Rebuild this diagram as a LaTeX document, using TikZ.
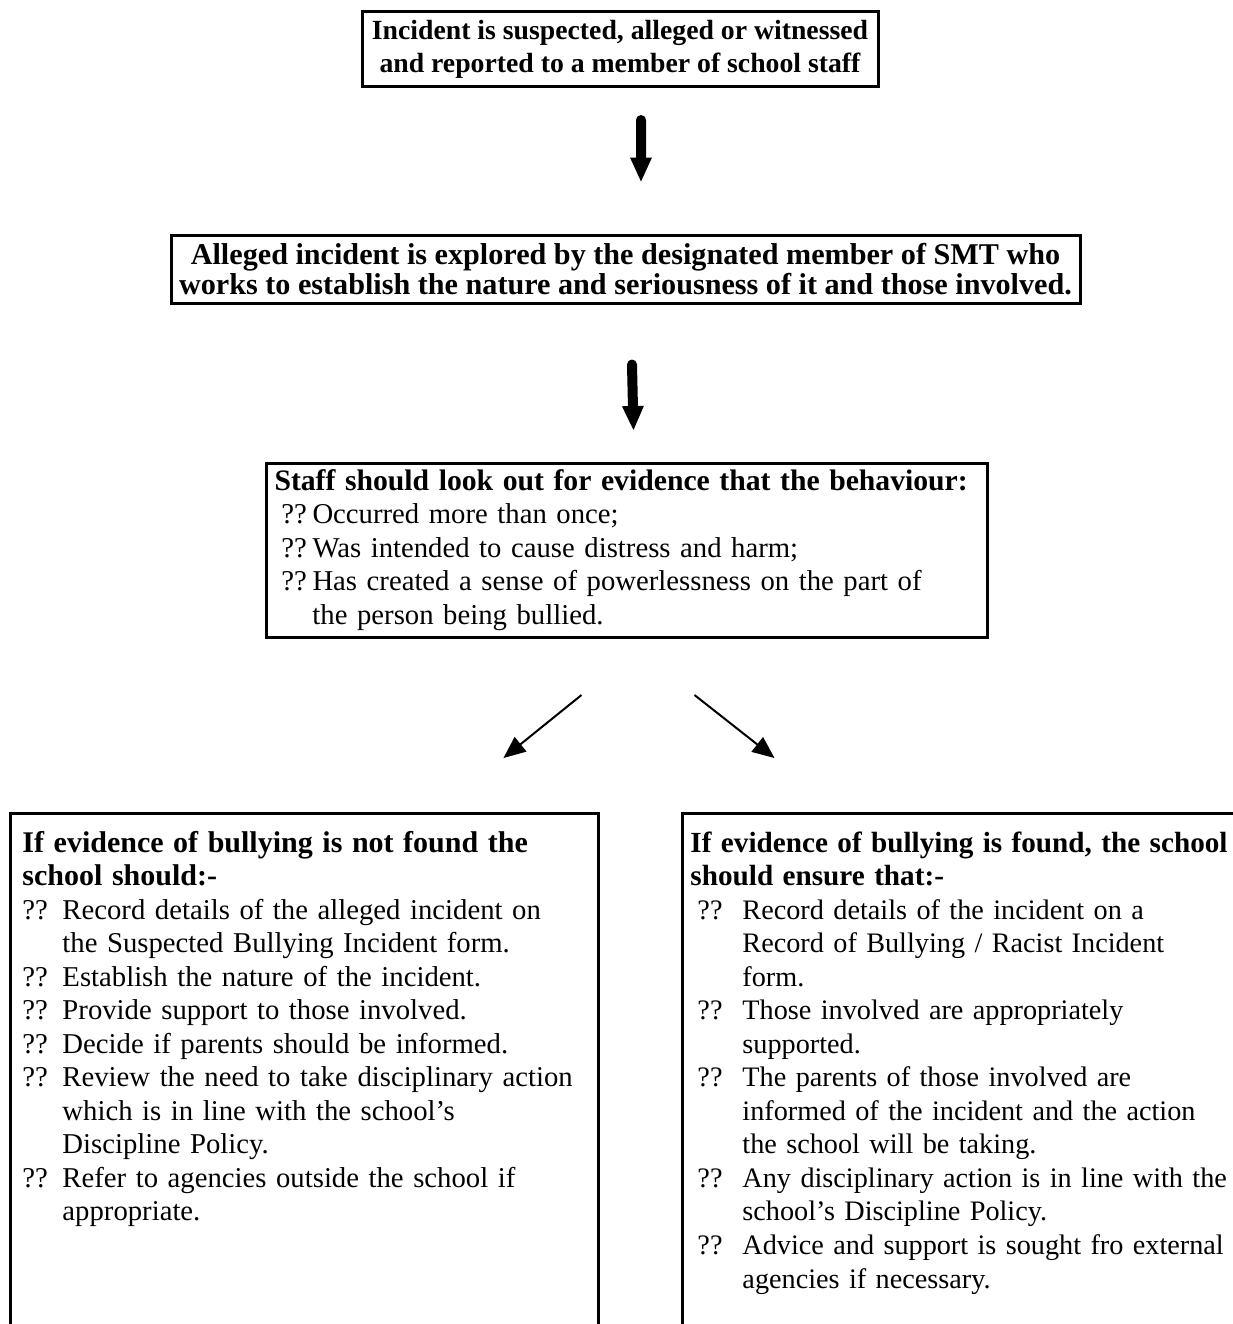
\documentclass[tikz,border=0pt]{standalone}
\usepackage{fontspec}
\setmainfont{Liberation Serif}
\usetikzlibrary{arrows.meta,calc}
\newdimen\pxu \pxu=0.411pt
\newdimen\boff \newdimen\bind
\newcommand\bitem[1]{\par\hangindent=\bind\hangafter=1\noindent\hspace*{\boff}\makebox[\dimexpr\bind-\boff\relax][l]{??}#1\par}
\tikzset{
  box/.style={draw, line width=3\pxu, rectangle, inner sep=0pt},
  blockarrow/.style={line width=10\pxu, line cap=round,
    -{Triangle[length=9.86pt 0 0, width=9.04pt 0 0, line width=0pt 0 0]}},
  thinarrow/.style={line width=2\pxu,
    -{Triangle[length=9.04pt 0 0, width=7.8pt 0 0, line width=0pt 0 0]}},
  bodytext/.style={inner sep=0pt, anchor=north west, align=left, text width=#1,
    font=\fontsize{11.8}{13.77}\selectfont},
  openbox/.style={draw=none, rectangle, inner sep=0pt, anchor=north west},
}
\begin{document}
\begin{tikzpicture}[x=0.411pt, y=-0.411pt]
\useasboundingbox (0,0) rectangle (1233,1324);

\node[box, minimum width=516\pxu, minimum height=75\pxu, align=center,
  font=\fontsize{11.4}{13.56}\selectfont\bfseries] (b1) at (620,49)
  {\strut Incident is suspected, alleged or witnessed\\ and reported to a member of school staff\strut};

\node[box, minimum width=909\pxu, minimum height=68\pxu, align=center,
  font=\fontsize{12.4}{12.33}\selectfont\bfseries] (b2) at (625.5,269)
  {Alleged incident is explored by the designated member of SMT who\\ works to establish the nature and seriousness of it and those involved.};

\node[box, anchor=north west, minimum width=721\pxu, minimum height=174\pxu,
  text width=705\pxu, inner xsep=8\pxu, inner ysep=0pt, align=left,
  font=\fontsize{11.8}{13.77}\selectfont] (b3) at (265,462)
  {\boff=7\pxu \bind=38\pxu
   {\fontsize{12.2}{13.77}\selectfont\bfseries\strut Staff should look out for evidence that the behaviour:\par}
   \bitem{Occurred more than once;}
   \bitem{Was intended to cause distress and harm;}
   \bitem{Has created a sense of powerlessness on the part of\newline the person being bullied.\strut}};

\node[openbox, minimum width=588\pxu, minimum height=560\pxu] (bl) at (10,813) {};
\draw[line width=3\pxu] (bl.south west) -- (bl.north west) -- (bl.north east) -- (bl.south east);
\node[openbox, minimum width=580\pxu, minimum height=560\pxu] (br) at (682,813) {};
\draw[line width=3\pxu] (br.south west) -- (br.north west) -- (br.north east) -- (br.south east);

\node[bodytext=575\pxu] (blt) at (22,828.5)
  {\boff=0pt \bind=40\pxu
   {\fontsize{12.33}{13.77}\selectfont\bfseries\strut If evidence of bullying is not found the\newline school should:-\par}
   \bitem{Record details of the alleged incident on\newline the Suspected Bullying Incident form.}
   \bitem{Establish the nature of the incident.}
   \bitem{Provide support to those involved.}
   \bitem{Decide if parents should be informed.}
   \bitem{Review the need to take disciplinary action\newline which is in line with the school’s\newline Discipline Policy.}
   \bitem{Refer to agencies outside the school if\newline appropriate.}};

\node[bodytext=600\pxu, font=\fontsize{11.6}{13.77}\selectfont] (brt) at (690,828.5)
  {\boff=7\pxu \bind=52\pxu
   {\fontsize{12.0}{13.77}\selectfont\bfseries\strut If evidence of bullying is found, the school\newline should ensure that:-\par}
   \bitem{Record details of the incident on a\newline Record of Bullying / Racist Incident\newline form.}
   \bitem{Those involved are appropriately\newline supported.}
   \bitem{The parents of those involved are\newline informed of the incident and the action\newline the school will be taking.}
   \bitem{Any disciplinary action is in line with the\newline school’s Discipline Policy.}
   \bitem{Advice and support is sought fro external\newline agencies if necessary.}};

\draw[blockarrow] ([shift={(21,32)}]b1.south) -- ([shift={(15.5,-52)}]b2.north);
\draw[blockarrow] ([shift={(6.5,60)}]b2.south) -- ([shift={(6.5,-32)}]b3.north);
\draw[thinarrow] ([shift={(-45.5,56)}]b3.south) -- ([shift={(199,-55)}]bl.north);
\draw[thinarrow] ([shift={(67.5,56)}]b3.south) -- ([shift={(-198,-55)}]br.north);
\end{tikzpicture}
\end{document}
